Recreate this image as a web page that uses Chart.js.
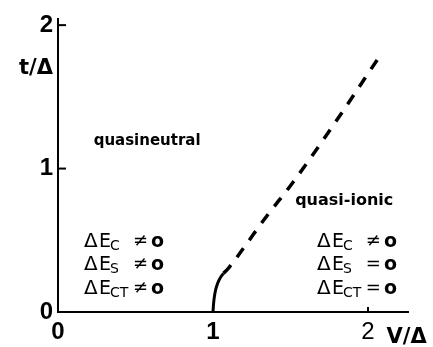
<!DOCTYPE html>
<html>
<head>
<meta charset="utf-8">
<script src="https://cdn.jsdelivr.net/npm/chart.js@4/dist/chart.umd.min.js"></script>
<style>
  html, body { margin: 0; padding: 0; background: #fff; }
  #wrap { width: 433px; height: 347px; }
</style>
</head>
<body>
<div id="wrap"><canvas id="c" width="433" height="347"></canvas></div>
<script>
// Phase boundary in the (V/Δ, t/Δ) plane
const solidV = [1.000, 1.003, 1.008, 1.016, 1.030, 1.048, 1.068];
const solidT = [0.00, 0.05, 0.10, 0.15, 0.20, 0.24, 0.27];
const dashedV = [1.068, 1.103, 1.20, 1.33, 1.52, 1.80, 2.07];
const dashedT = [0.27, 0.31, 0.45, 0.645, 0.91, 1.34, 1.775];

// Axis ticks
const xTicks = [0, 1, 2];
const yTicks = [0, 1, 2];

// Region names
const regionNames = ['quasineutral', 'quasi-ionic'];
// Energy conditions: subscript and relation, per region
const leftSubs = ['C', 'S', 'CT'];
const leftRels = ['≠', '≠', '≠'];
const rightSubs = ['C', 'S', 'CT'];
const rightRels = ['≠', '=', '='];

const INK = '#000';
const sansBold = (size) => ({ family: '"Liberation Sans", Arial, sans-serif', size: size, weight: 'bold' });

const toPoints = (xs, ys) => xs.map((v, i) => ({ x: v, y: ys[i] }));

// Annotations, ticks drawn inward and axis names
const decorations = {
  id: 'decorations',
  afterDraw(chart) {
    const ctx = chart.ctx;
    const xs = chart.scales.x, ys = chart.scales.y;
    const area = chart.chartArea;
    ctx.save();
    ctx.strokeStyle = INK;
    ctx.fillStyle = INK;
    ctx.lineWidth = 2;

    // inward tick marks
    [1, 2].forEach(v => {
      const py = ys.getPixelForValue(v);
      ctx.beginPath(); ctx.moveTo(area.left, py); ctx.lineTo(area.left + 8, py); ctx.stroke();
    });
    {
      const px = xs.getPixelForValue(2);
      ctx.beginPath(); ctx.moveTo(px, area.bottom); ctx.lineTo(px, area.bottom - 5); ctx.stroke();
    }

    // axis names
    ctx.font = 'bold 21px "DejaVu Sans", sans-serif';
    ctx.textBaseline = 'middle';
    ctx.textAlign = 'right';
    ctx.fillText('t/Δ', area.left - 5, ys.getPixelForValue(1.70));
    ctx.textAlign = 'left';
    ctx.fillText('V/Δ', xs.getPixelForValue(2.12), area.bottom + 26);

    // region names
    ctx.textBaseline = 'alphabetic';
    ctx.font = 'bold 15px "DejaVu Sans", sans-serif';
    ctx.fillText(regionNames[0], xs.getPixelForValue(0.23), ys.getPixelForValue(1.165));
    ctx.font = 'bold 16px "DejaVu Sans", sans-serif';
    ctx.fillText(regionNames[1], xs.getPixelForValue(1.53), ys.getPixelForValue(0.745));

    // energy conditions
    const rowT = [0.505, 0.341, 0.171];
    const block = (v0, subs, rels) => {
      const x0 = xs.getPixelForValue(v0);
      subs.forEach((s, i) => {
        const cy = ys.getPixelForValue(rowT[i]);
        const base = cy + 7;
        ctx.textAlign = 'left';
        ctx.textBaseline = 'alphabetic';
        ctx.font = '20px "DejaVu Sans", sans-serif';
        ctx.fillText('Δ', x0 - 1, base);
        ctx.font = '19px "DejaVu Sans", sans-serif';
        ctx.fillText('E', x0 + 14, base);
        ctx.font = '14px "DejaVu Sans", sans-serif';
        ctx.fillText(s, x0 + 25, base + 3);
        ctx.font = '18px "DejaVu Sans", sans-serif';
        ctx.textAlign = 'right';
        ctx.fillText(rels[i], x0 + 63, base - 1);
        ctx.textAlign = 'left';
        ctx.font = 'bold 19px "DejaVu Sans", sans-serif';
        ctx.fillText('o', x0 + 66, base);
      });
    };
    block(0.174, leftSubs, leftRels);
    block(1.677, rightSubs, rightRels);
    ctx.restore();
  }
};

new Chart(document.getElementById('c'), {
  type: 'scatter',
  data: {
    datasets: [
      {
        data: toPoints(solidV, solidT),
        showLine: true,
        borderColor: INK,
        borderWidth: 3,
        pointRadius: 0,
        cubicInterpolationMode: 'monotone'
      },
      {
        data: toPoints(dashedV, dashedT),
        showLine: true,
        borderColor: INK,
        borderWidth: 3.5,
        borderDash: [11, 10],
        pointRadius: 0,
        cubicInterpolationMode: 'monotone'
      }
    ]
  },
  options: {
    responsive: false,
    animation: false,
    devicePixelRatio: 1,
    layout: { padding: { left: 0, right: 25, top: 13, bottom: 0 } },
    plugins: { legend: { display: false }, tooltip: { enabled: false } },
    scales: {
      x: {
        type: 'linear',
        min: 0,
        max: 2.258,
        afterBuildTicks: (s) => { s.ticks = xTicks.map(v => ({ value: v })); },
        afterFit: (s) => { s.height = 35; },
        grid: { display: false, drawTicks: false },
        border: { display: true, color: INK, width: 2 },
        ticks: {
          color: INK,
          padding: 6,
          maxRotation: 0,
          font: (c) => ({ ...sansBold(24), weight: c.tick && c.tick.value === 2 ? 'normal' : 'bold' }),
          callback: (v) => String(v)
        }
      },
      y: {
        type: 'linear',
        min: 0,
        max: 2.04,
        afterBuildTicks: (s) => { s.ticks = yTicks.map(v => ({ value: v })); },
        afterFit: (s) => { s.width = 58; },
        grid: { display: false, drawTicks: false },
        border: { display: true, color: INK, width: 2 },
        ticks: {
          color: INK,
          padding: 5,
          font: sansBold(24),
          callback: (v) => String(v)
        }
      }
    }
  },
  plugins: [decorations]
});
</script>
</body>
</html>
